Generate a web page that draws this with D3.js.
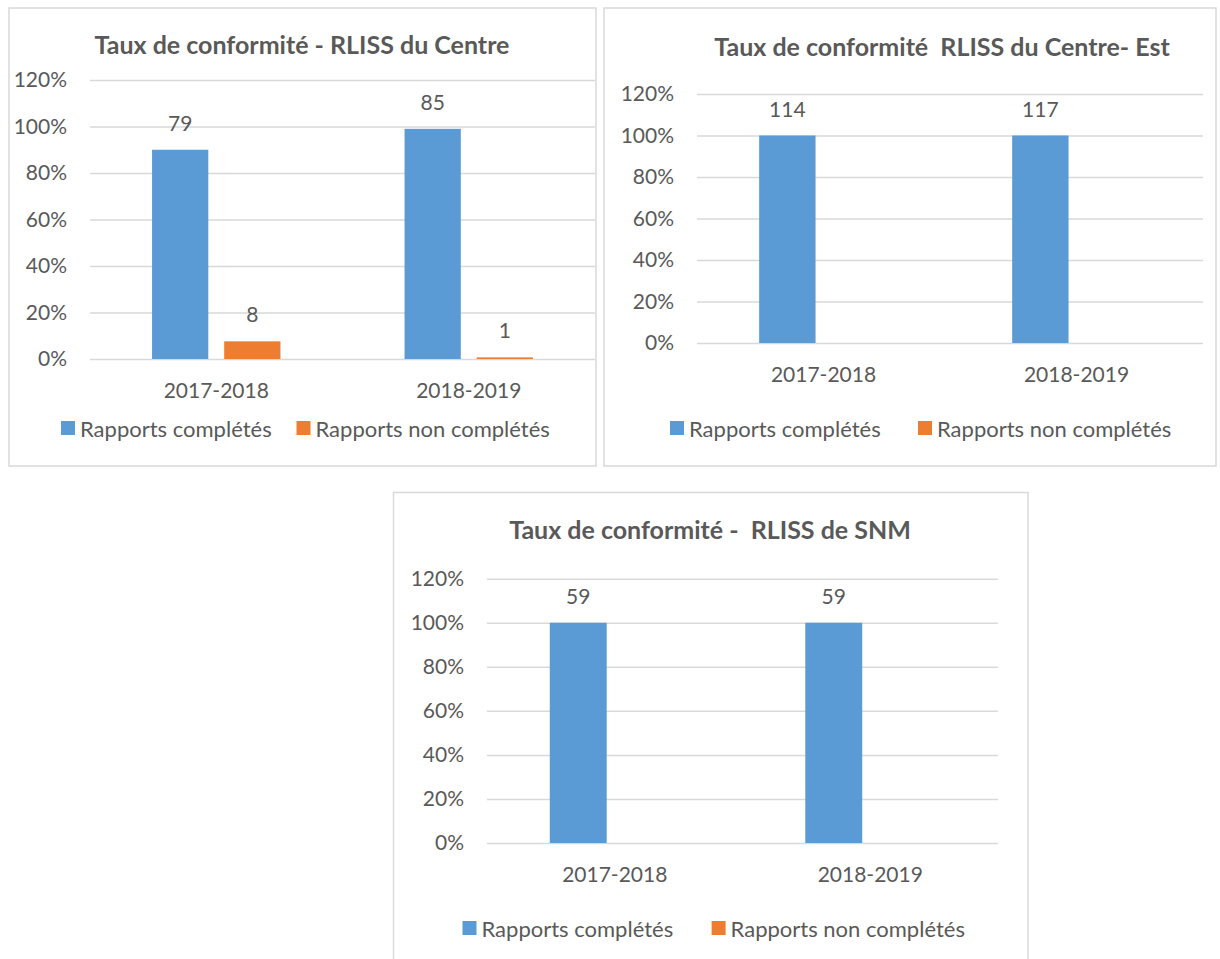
<!DOCTYPE html>
<html>
<head>
<meta charset="utf-8">
<script src="https://cdn.jsdelivr.net/npm/d3@7"></script>
<style>
  body { margin: 0; background: #fff; }
  svg text { font-family: Lato, "Open Sans", sans-serif; fill: #595959; }
  .title { font-weight: bold; font-size: 25px; }
  .tick text, .lbl { font-size: 21px; }
  .legend text { font-size: 22px; }
</style>
</head>
<body>
<svg id="chart" width="1220" height="959"></svg>
<script>
// data
var categories = ["2017-2018", "2018-2019"];
var seriesNames = ["Rapports complétés", "Rapports non complétés"];
var yTicks = [0, 0.2, 0.4, 0.6, 0.8, 1.0, 1.2];
var seriesColors = ["#5b9bd5", "#ed7d31"];

var centreTitle = "Taux de conformité - RLISS du Centre";
var centreCompletes = [0.90, 0.99];
var centreNonCompletes = [0.076, 0.007];
var centreLabelsCompletes = [79, 85];
var centreLabelsNon = [8, 1];

var estTitle = "Taux de conformité  RLISS du Centre- Est";
var estCompletes = [1, 1];
var estNonCompletes = [0, 0];
var estLabelsCompletes = [114, 117];
var estLabelsNon = [null, null];

var snmTitle = "Taux de conformité -  RLISS de SNM";
var snmCompletes = [1, 1];
var snmNonCompletes = [0, 0];
var snmLabelsCompletes = [59, 59];
var snmLabelsNon = [null, null];

var svg = d3.select('#chart');

// one chart panel
function barchart(m, values, labels){
    var g = svg.append('g');
    g.append('rect')
        .attr('x', m.box[0]).attr('y', m.box[1])
        .attr('width', m.box[2]).attr('height', m.box[3])
        .attr('fill', '#fff').attr('stroke', '#d9d9d9').attr('stroke-width', 1.5);

    g.append('text').attr('class', 'title')
        .attr('x', m.titleX).attr('y', m.titleY)
        .attr('text-anchor', 'middle')
        .style('white-space', 'pre')
        .text(m.title);

    var p = m.plot;
    var x0 = d3.scaleBand().domain(categories).range([p.left, p.right]);
    var x1 = d3.scaleBand().domain(seriesNames).range([0, x0.bandwidth()])
        .paddingInner(0.22).paddingOuter(0.86);
    var y = d3.scaleLinear().domain([0, 1.2]).range([p.bottom, p.top]);

    // gridlines + y labels
    var ya = g.append('g')
        .attr('transform', 'translate(' + p.left + ',0)')
        .call(d3.axisLeft(y).tickValues(yTicks).tickFormat(d3.format('.0%'))
            .tickSize(-(p.right - p.left)).tickPadding(23));
    ya.select('.domain').remove();
    ya.selectAll('.tick line').attr('stroke', '#d9d9d9').attr('stroke-width', 1.5);

    // x labels
    var xa = g.append('g')
        .attr('transform', 'translate(0,' + p.bottom + ')')
        .call(d3.axisBottom(x0).tickSize(0).tickPadding(24));
    xa.select('.domain').remove();

    var groups = g.selectAll('.grp')
        .data(categories)
        .enter().append('g')
        .attr('class', 'grp')
        .attr('transform', function(d){ return 'translate(' + x0(d) + ',0)'; });

    groups.selectAll('rect')
        .data(function(d, i){ return seriesNames.map(function(s, j){ return {s: s, j: j, v: values[j][i], l: labels[j][i]}; }); })
        .enter().append('rect')
        .attr('x', function(d){ return x1(d.s); })
        .attr('y', function(d){ return y(d.v); })
        .attr('width', x1.bandwidth())
        .attr('height', function(d){ return y(0) - y(d.v); })
        .attr('fill', function(d){ return seriesColors[d.j]; });

    groups.selectAll('.lbl')
        .data(function(d, i){ return seriesNames.map(function(s, j){ return {s: s, v: values[j][i], l: labels[j][i]}; }).filter(function(d){ return d.l != null; }); })
        .enter().append('text')
        .attr('class', 'lbl')
        .attr('text-anchor', 'middle')
        .attr('x', function(d){ return x1(d.s) + x1.bandwidth() / 2; })
        .attr('y', function(d){ return y(d.v) - 19; })
        .text(function(d){ return d.l; });

    // legend
    var lg = g.append('g').attr('class', 'legend');
    seriesNames.forEach(function(s, j){
        lg.append('rect')
            .attr('x', m.legendX[j]).attr('y', m.legendY - 7)
            .attr('width', 14).attr('height', 14)
            .attr('fill', seriesColors[j]);
        lg.append('text')
            .attr('x', m.legendX[j] + 19).attr('y', m.legendY)
            .attr('dominant-baseline', 'central')
            .text(s);
    });
}

barchart({title: centreTitle, box: [9, 8, 587, 458], titleX: 302, titleY: 54,
    plot: {left: 90, right: 595, top: 80, bottom: 359}, legendY: 428, legendX: [61, 296.5]},
    [centreCompletes, centreNonCompletes], [centreLabelsCompletes, centreLabelsNon]);

barchart({title: estTitle, box: [604, 8, 612, 458], titleX: 942, titleY: 56,
    plot: {left: 697, right: 1203, top: 94, bottom: 343}, legendY: 428, legendX: [670, 918]},
    [estCompletes, estNonCompletes], [estLabelsCompletes, estLabelsNon]);

barchart({title: snmTitle, box: [393.5, 492.5, 634.5, 480], titleX: 710, titleY: 539,
    plot: {left: 487, right: 998, top: 578.7, bottom: 843}, legendY: 928, legendX: [462.5, 711.6]},
    [snmCompletes, snmNonCompletes], [snmLabelsCompletes, snmLabelsNon]);
</script>
</body>
</html>
